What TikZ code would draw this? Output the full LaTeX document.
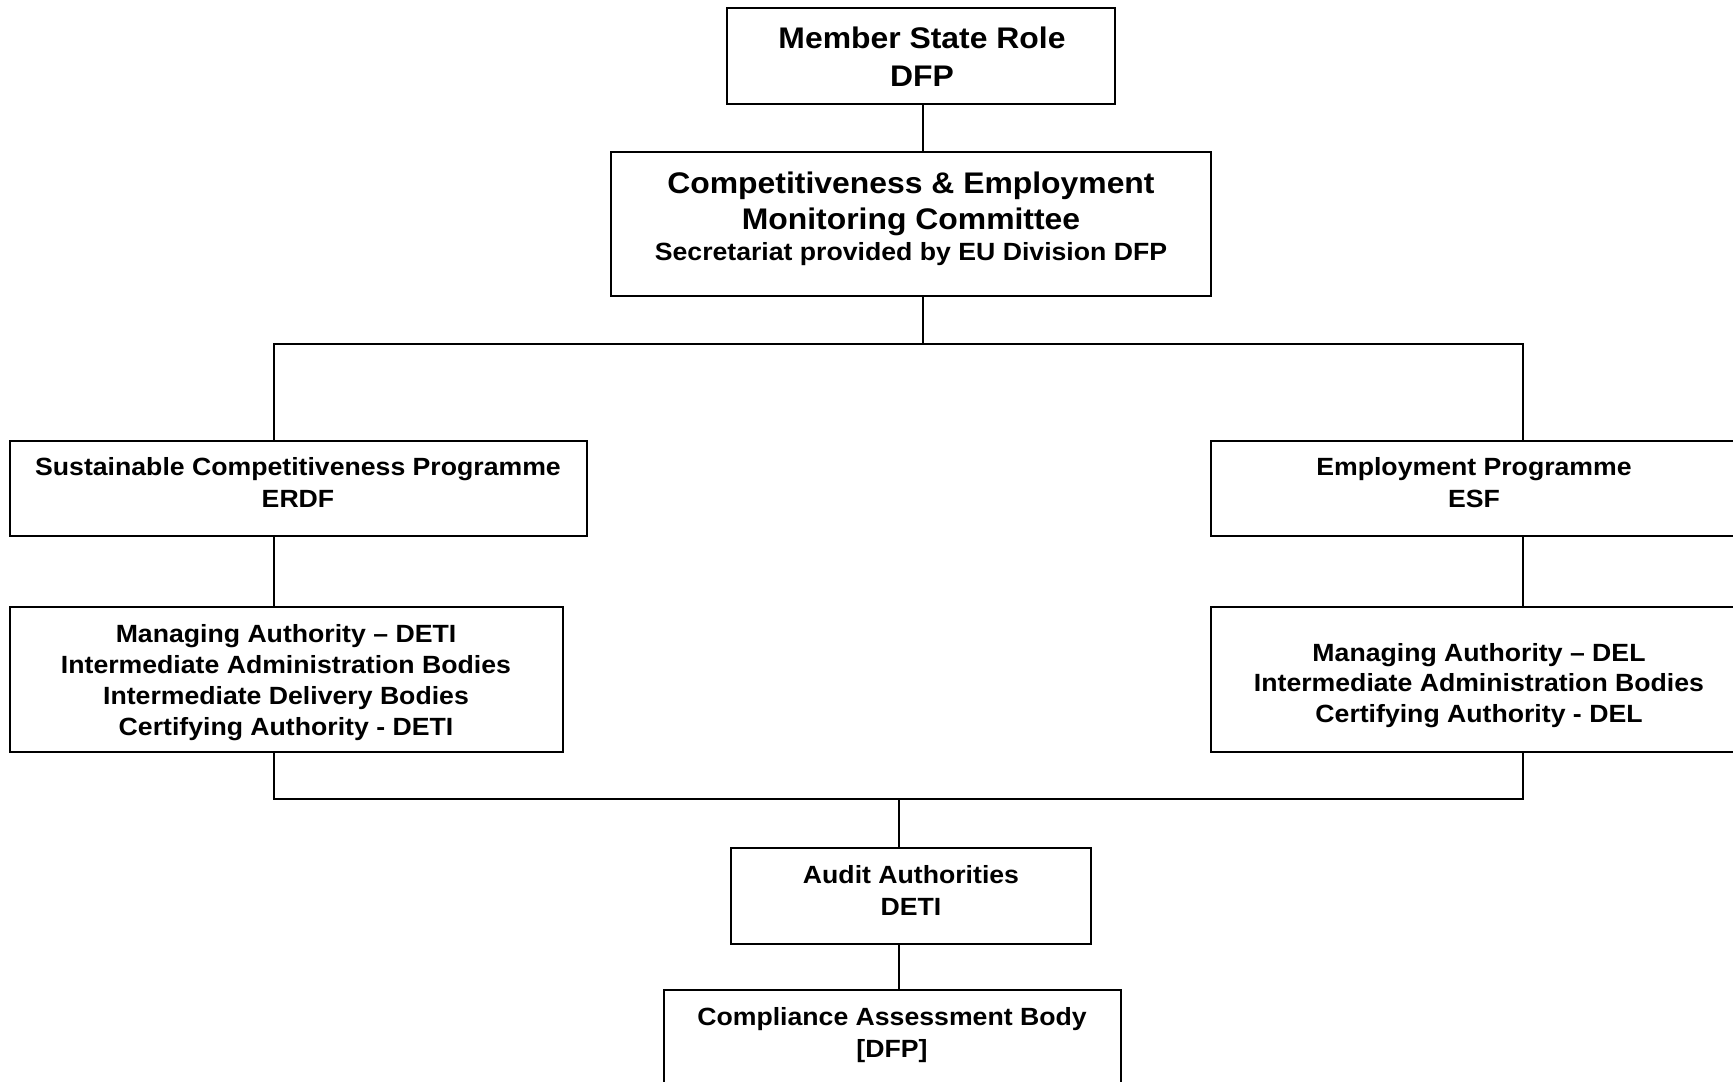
\documentclass[tikz,border=0pt]{standalone}
\usepackage{fontspec}
\setmainfont{Liberation Sans}[FakeStretch=1.07]
\begin{document}
\begin{tikzpicture}[x=1pt,y=-1pt,
  box/.style={draw, line width=2.2pt, inner sep=0pt, rectangle},
  big/.style={font=\bfseries\fontsize{29.8}{38}\selectfont, align=center, anchor=base, inner sep=0pt},
  small/.style={font=\bfseries\fontsize{24.9}{32}\selectfont, align=center, anchor=base, inner sep=0pt},
  link/.style={line width=2pt}]
\fill[white] (0,0) rectangle (1733,1082);
\useasboundingbox (0,0) rectangle (1733,1082);

% boxes
\node[box, minimum width=388pt, minimum height=96pt] (ms) at (921,56) {};
\node[box, minimum width=600pt, minimum height=144pt] (cm) at (911,224) {};
\node[box, minimum width=577pt, minimum height=95pt] (scp) at (298.5,488.5) {};
\node[box, minimum width=553pt, minimum height=145pt] (mad) at (286.5,679.5) {};
\node[box, minimum width=534pt, minimum height=95pt] (ep) at (1478,488.5) {};
\node[box, minimum width=539pt, minimum height=145pt] (mal) at (1480.5,679.5) {};
\node[box, minimum width=360pt, minimum height=96pt] (aa) at (911,896) {};
\node[box, minimum width=457pt, minimum height=140pt] (cab) at (892.5,1060) {};

% texts (anchor base = baseline of the last line)
\node[big] (ms-t) at (922,86) {Member State Role\\DFP};
\node[big, font=\bfseries\fontsize{29.8}{36}\selectfont] (cm-t) at (911,229) {Competitiveness \& Employment\\Monitoring Committee};
\node[small] (cm-s) at (911,260) {Secretariat provided by EU Division DFP};
\node[small] (scp-t) at (298,507) {Sustainable Competitiveness Programme\\ERDF};
\node[small, font=\bfseries\fontsize{24.9}{30.7}\selectfont] (mad-t) at (286,735) {Managing Authority – DETI\\Intermediate Administration Bodies\\Intermediate Delivery Bodies\\Certifying Authority - DETI};
\node[small] (ep-t) at (1474,507) {Employment Programme\\ESF};
\node[small, font=\bfseries\fontsize{24.9}{30.5}\selectfont] (mal-t) at (1479,722) {Managing Authority – DEL\\Intermediate Administration Bodies\\Certifying Authority - DEL};
\node[small] (aa-t) at (911,915) {Audit Authorities\\DETI};
\node[small] (cab-t) at (892,1057) {Compliance Assessment Body\\{[DFP]}};

% connectors
\coordinate (tl) at (274,344);
\coordinate (tr) at (1523,344);
\coordinate (tj) at (923,344);
\coordinate (bl) at (274,799);
\coordinate (br) at (1523,799);
\coordinate (bj) at (899,799);
\draw[link] (ms.south -| tj) -- (cm.north -| tj);
\draw[link] (cm.south -| tj) -- (tj);
\draw[link] (tl |- scp.north) -- (tl) -- (tr) -- (tr |- ep.north);
\draw[link] (scp.south -| tl) -- (mad.north -| tl);
\draw[link] (ep.south -| tr) -- (mal.north -| tr);
\draw[link] (mad.south -| bl) -- (bl) -- (br) -- (br |- mal.south);
\draw[link] (bj) -- (aa.north -| bj);
\draw[link] (aa.south -| bj) -- (cab.north -| bj);
\end{tikzpicture}
\end{document}
